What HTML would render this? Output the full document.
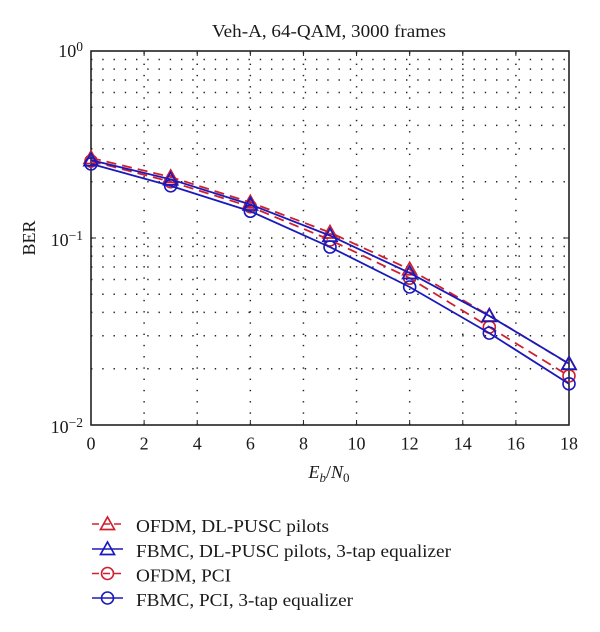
<!DOCTYPE html>
<html>
<head>
<meta charset="utf-8">
<style>
html,body{margin:0;padding:0;background:#fff;}
svg{display:block;}
text{font-family:"Liberation Serif",serif;fill:#1a1a1a;}
</style>
</head>
<body>
<svg id="chart" xmlns="http://www.w3.org/2000/svg" width="600" height="632" viewBox="0 0 600 632">
  <text x="329" y="37" font-size="18" text-anchor="middle" textLength="234" lengthAdjust="spacingAndGlyphs">Veh-A, 64-QAM, 3000 frames</text>
  <text transform="translate(35,238) rotate(-90)" font-size="18" text-anchor="middle">BER</text>
  <text x="329" y="478" font-size="18" text-anchor="middle"><tspan font-style="italic">E</tspan><tspan font-style="italic" font-size="13" dy="4">b</tspan><tspan dy="-4">/</tspan><tspan font-style="italic">N</tspan><tspan font-size="13" dy="4">0</tspan></text>
  <g id="grid"></g>
  <g id="axes"></g>
  <g id="series"></g>
  <g id="legend"></g>
</svg>
<script>
var snrValues = [0, 3, 6, 9, 12, 15, 18];
var ofdmPilots = [0.268, 0.212, 0.155, 0.107, 0.068, 0.0385, 0.0212];
var fbmcPilots = [0.261, 0.206, 0.151, 0.103, 0.065, 0.0383, 0.0213];
var ofdmPci = [0.258, 0.2, 0.147, 0.0977, 0.061, 0.0334, 0.0183];
var fbmcPci = [0.249, 0.19, 0.139, 0.0895, 0.0547, 0.031, 0.0166];
var xTicks = [0, 2, 4, 6, 8, 10, 12, 14, 16, 18];
var yDecades = [0, -1, -2];
var yMinorFactors = [2, 3, 4, 5, 6, 7, 8, 9];
var legendLabels = ['OFDM, DL-PUSC pilots', 'FBMC, DL-PUSC pilots, 3-tap equalizer', 'OFDM, PCI', 'FBMC, PCI, 3-tap equalizer'];

var NS = 'http://www.w3.org/2000/svg';
var left = 91, right = 569, top_ = 51, bottom = 425;
var RED = '#d0202e', BLUE = '#1a1abc', INK = '#222';
var legendTextLengths = [193, 315, 95, 217];
var legendRowY = [524, 549, 573.5, 598];

function xScale(v) { return left + (v - 0) / 18 * (right - left); }
function yScale(v) { return top_ + (0 - Math.log10(v)) / 2 * (bottom - top_); }

function make(parent, tag, attrs) {
  var el = document.createElementNS(NS, tag);
  for (var k in attrs) { el.setAttribute(k, attrs[k]); }
  parent.appendChild(el);
  return el;
}

var grid = document.getElementById('grid');
var axes = document.getElementById('axes');
var seriesG = document.getElementById('series');
var legend = document.getElementById('legend');

var dotStyle = { stroke: '#222', 'stroke-width': 1.5, 'stroke-dasharray': '1.4 9.85', fill: 'none' };

xTicks.forEach(function (t) {
  if (t === 0 || t === 18) { return; }
  var line = make(grid, 'line', { x1: xScale(t), x2: xScale(t), y1: bottom, y2: top_ });
  for (var k in dotStyle) { line.setAttribute(k, dotStyle[k]); }
  
  
});

yDecades.forEach(function (d) {
  var list = [];
  if (d === -1) { list.push(Math.pow(10, d)); }
  if (d !== 0) {
    yMinorFactors.forEach(function (f) { list.push(f * Math.pow(10, d)); });
  }
  list.forEach(function (v) {
    var line = make(grid, 'line', { x1: left, x2: right, y1: yScale(v), y2: yScale(v) });
    for (var k in dotStyle) { line.setAttribute(k, dotStyle[k]); }
    
    
  });
});

var frame = make(axes, 'rect', { x: left, y: top_, width: right - left, height: bottom - top_, fill: 'none', stroke: INK, 'stroke-width': 1.6 });



xTicks.forEach(function (t) {
  var px = xScale(t);
  var tb = make(axes, 'line', { x1: px, x2: px, y1: bottom, y2: bottom - 5, stroke: INK, 'stroke-width': 1 });
  
  
  var tt = make(axes, 'line', { x1: px, x2: px, y1: top_, y2: top_ + 5, stroke: INK, 'stroke-width': 1 });
  
  
  var lab = make(axes, 'text', { x: px, y: 449.5, 'font-size': 18, 'text-anchor': 'middle' });
  lab.textContent = String(t);
  
  
});

yDecades.forEach(function (d) {
  var v = Math.pow(10, d), py = yScale(v);
  var tl = make(axes, 'line', { x1: left, x2: left + 5, y1: py, y2: py, stroke: INK, 'stroke-width': 1 });
  
  
  var tr = make(axes, 'line', { x1: right, x2: right - 5, y1: py, y2: py, stroke: INK, 'stroke-width': 1 });
  
  
  var lab = make(axes, 'text', { x: 83, y: d === 0 ? py + 6 : py + 8, 'font-size': 18, 'text-anchor': 'end' });
  
  
  var base = make(lab, 'tspan', {});
  base.textContent = '10';
  var sup = make(lab, 'tspan', { dy: -6, 'font-size': 13.5 });
  sup.textContent = d === 0 ? '0' : '\u2212' + Math.abs(d);
});

function drawMarker(parent, kind, cx, cy, color, w) {
  if (kind === 'triangle') {
    var hw = 7 * w, up = 7 * w, dn = 5.5 * w;
    return make(parent, 'polygon', {
      points: cx + ',' + (cy - up) + ' ' + (cx + hw) + ',' + (cy + dn) + ' ' + (cx - hw) + ',' + (cy + dn),
      fill: 'none', stroke: color, 'stroke-width': 1.7
    });
  }
  return make(parent, 'circle', { cx: cx, cy: cy, r: 6 * w, fill: 'none', stroke: color, 'stroke-width': 1.6 });
}

var seriesDefs = [
  { values: ofdmPilots, color: RED, dash: '10 6', marker: 'triangle' },
  { values: ofdmPci, color: RED, dash: '10 6', marker: 'circle' },
  { values: fbmcPilots, color: BLUE, dash: '', marker: 'triangle' },
  { values: fbmcPci, color: BLUE, dash: '', marker: 'circle' }
];

seriesDefs.forEach(function (s) {
  var pts = s.values.map(function (v, i) { return xScale(snrValues[i]) + ',' + yScale(v); }).join(' ');
  var pl = make(seriesG, 'polyline', { points: pts, fill: 'none', stroke: s.color, 'stroke-width': 1.8 });
  if (s.dash) { pl.setAttribute('stroke-dasharray', s.dash); }
  
  
  s.values.forEach(function (v, i) {
    var m = drawMarker(seriesG, s.marker, xScale(snrValues[i]), yScale(v), s.color, 1);
    
    
  });
});

var legendStyles = [
  { color: RED, dash: '7 4', marker: 'triangle' },
  { color: BLUE, dash: '', marker: 'triangle' },
  { color: RED, dash: '7 4', marker: 'circle' },
  { color: BLUE, dash: '', marker: 'circle' }
];

legendLabels.forEach(function (label, i) {
  var y = legendRowY[i];
  var st = legendStyles[i];
  var ln = make(legend, 'line', { x1: 92, x2: 123, y1: y, y2: y, stroke: st.color, 'stroke-width': 1.6 });
  if (st.dash) { ln.setAttribute('stroke-dasharray', st.dash); }
  
  
  var mk = drawMarker(legend, st.marker, 107.5, y, st.color, 1);
  
  
  var tx = make(legend, 'text', { x: 136, y: y + 8, 'font-size': 18, textLength: legendTextLengths[i], lengthAdjust: 'spacingAndGlyphs' });
  tx.textContent = label;
  
  
});
</script>
</body>
</html>
